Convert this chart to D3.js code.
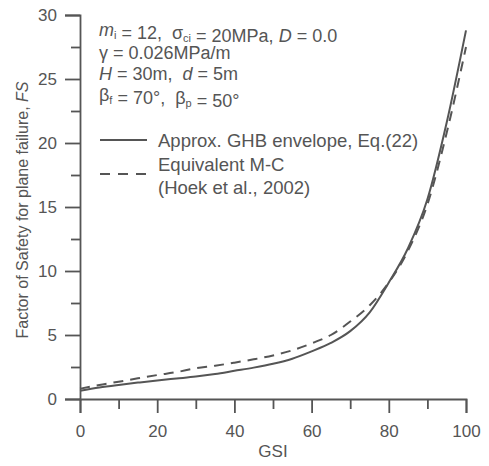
<!DOCTYPE html>
<html>
<head>
<meta charset="utf-8">
<script src="https://cdn.jsdelivr.net/npm/d3@7"></script>
<style>
  body { margin: 0; background: #fff; }
  text { font-family: "Liberation Sans", Arial, sans-serif; fill: #555; white-space: pre; }
</style>
</head>
<body>
<script>
// GSI values
const gsi = [0, 5, 10, 15, 20, 25, 30, 35, 40, 45, 50, 55, 60, 65, 70, 75, 80, 85, 90, 95, 100];
// approx. GHB envelope, Eq.(22)
const fsGHB = [0.65, 0.9, 1.1, 1.28, 1.45, 1.6, 1.75, 1.95, 2.2, 2.45, 2.75, 3.15, 3.72, 4.38, 5.3, 6.75, 9.1, 11.8, 15.6, 21.6, 28.8];
// equivalent M-C (Hoek et al., 2002)
const fsMC = [0.8, 1.1, 1.35, 1.62, 1.87, 2.1, 2.4, 2.6, 2.84, 3.1, 3.4, 3.8, 4.35, 5.0, 6.05, 7.3, 9.1, 11.6, 15.2, 20.8, 27.5];
const xTicks = [0, 10, 20, 30, 40, 50, 60, 70, 80, 90, 100];
const yTicks = [0, 2.5, 5, 7.5, 10, 12.5, 15, 17.5, 20, 22.5, 25, 27.5, 30];

let canvasW = 489;
let canvasH = 466;
let mLeft = 80, mRight = 466, mTop = 15, mBottom = 399;
let grey = "#555";

let svg = d3.select("body").append("svg")
  .attr("width", canvasW)
  .attr("height", canvasH);

let x = d3.scaleLinear().domain([0, 100]).range([mLeft, mRight]);
let y = d3.scaleLinear().domain([0, 30]).range([mBottom, mTop]);

// x axis
let gx = svg.append("g")
  .attr("transform", "translate(0," + mBottom + ")")
  .call(d3.axisBottom(x).tickValues(xTicks).tickSizeOuter(0)
    .tickSize(14).tickPadding(12)
    .tickFormat(d => d % 20 == 0 ? d : ""));
gx.selectAll(".tick line").attr("y2", d => d % 20 == 0 ? 14 : 10);

// y axis
let gy = svg.append("g")
  .attr("transform", "translate(" + mLeft + ",0)")
  .call(d3.axisLeft(y).tickValues(yTicks).tickSizeOuter(0)
    .tickSize(15).tickPadding(8)
    .tickFormat(d => d % 5 == 0 ? d : ""));
gy.selectAll(".tick line").attr("x2", d => d % 5 == 0 ? -15 : -9);

svg.selectAll(".domain, .tick line")
  .attr("stroke", grey)
  .attr("stroke-width", 1.8);
svg.selectAll(".tick text")
  .attr("font-size", "17px")
  .attr("font-family", "Liberation Sans, Arial, sans-serif")
  .attr("fill", grey);

// axis titles
svg.append("text")
  .attr("x", x(50))
  .attr("y", 457)
  .attr("text-anchor", "middle")
  .attr("font-size", "17px")
  .text("GSI");

let yt = svg.append("text")
  .attr("transform", "translate(28,210) rotate(-90)")
  .attr("text-anchor", "middle")
  .attr("font-size", "16px");
yt.append("tspan").text("Factor of Safety for plane failure, ");
yt.append("tspan").attr("font-style", "italic").text("FS");

// curves
let line = d3.line()
  .x(d => x(d[0]))
  .y(d => y(d[1]))
  .curve(d3.curveMonotoneX);

svg.append("path")
  .datum(gsi.map((g, i) => [g, fsMC[i]]))
  .attr("d", line)
  .attr("fill", "none")
  .attr("stroke", grey)
  .attr("stroke-width", 2)
  .attr("stroke-dasharray", "10,7");

svg.append("path")
  .datum(gsi.map((g, i) => [g, fsGHB[i]]))
  .attr("d", line)
  .attr("fill", "none")
  .attr("stroke", grey)
  .attr("stroke-width", 2);

// parameter text
let fs = 18;
function sub(t, s) {
  t.append("tspan").attr("dy", 3).attr("font-size", "11px").text(s);
  t.append("tspan").attr("dy", -3).text("");
}
let t1 = svg.append("text").attr("x", 99).attr("y", 36).attr("font-size", fs + "px");
t1.append("tspan").attr("font-style", "italic").text("m");
sub(t1, "i");
t1.append("tspan").text(" = 12,  σ");
sub(t1, "ci");
t1.append("tspan").text(" = 20MPa, ");
t1.append("tspan").attr("font-style", "italic").text("D");
t1.append("tspan").text(" = 0.0");

svg.append("text").attr("x", 99).attr("y", 59).attr("font-size", fs + "px")
  .text("γ = 0.026MPa/m");

let t3 = svg.append("text").attr("x", 99).attr("y", 80).attr("font-size", fs + "px");
t3.append("tspan").attr("font-style", "italic").text("H");
t3.append("tspan").text(" = 30m,  ");
t3.append("tspan").attr("font-style", "italic").text("d");
t3.append("tspan").text(" = 5m");

let t4 = svg.append("text").attr("x", 99).attr("y", 101).attr("font-size", fs + "px");
t4.append("tspan").text("β");
sub(t4, "f");
t4.append("tspan").text(" = 70°,  β");
sub(t4, "p");
t4.append("tspan").text(" = 50°");

// legend
svg.append("line")
  .attr("x1", 100).attr("x2", 147).attr("y1", 140).attr("y2", 140)
  .attr("stroke", grey).attr("stroke-width", 2);
svg.append("text").attr("x", 158).attr("y", 147).attr("font-size", "18.5px")
  .text("Approx. GHB envelope, Eq.(22)");

svg.append("line")
  .attr("x1", 100).attr("x2", 147).attr("y1", 174).attr("y2", 174)
  .attr("stroke", grey).attr("stroke-width", 2)
  .attr("stroke-dasharray", "10,8");
svg.append("text").attr("x", 158).attr("y", 171).attr("font-size", "18.5px")
  .text("Equivalent M-C");
svg.append("text").attr("x", 158).attr("y", 194).attr("font-size", "18.5px")
  .text("(Hoek et al., 2002)");
</script>
</body>
</html>
